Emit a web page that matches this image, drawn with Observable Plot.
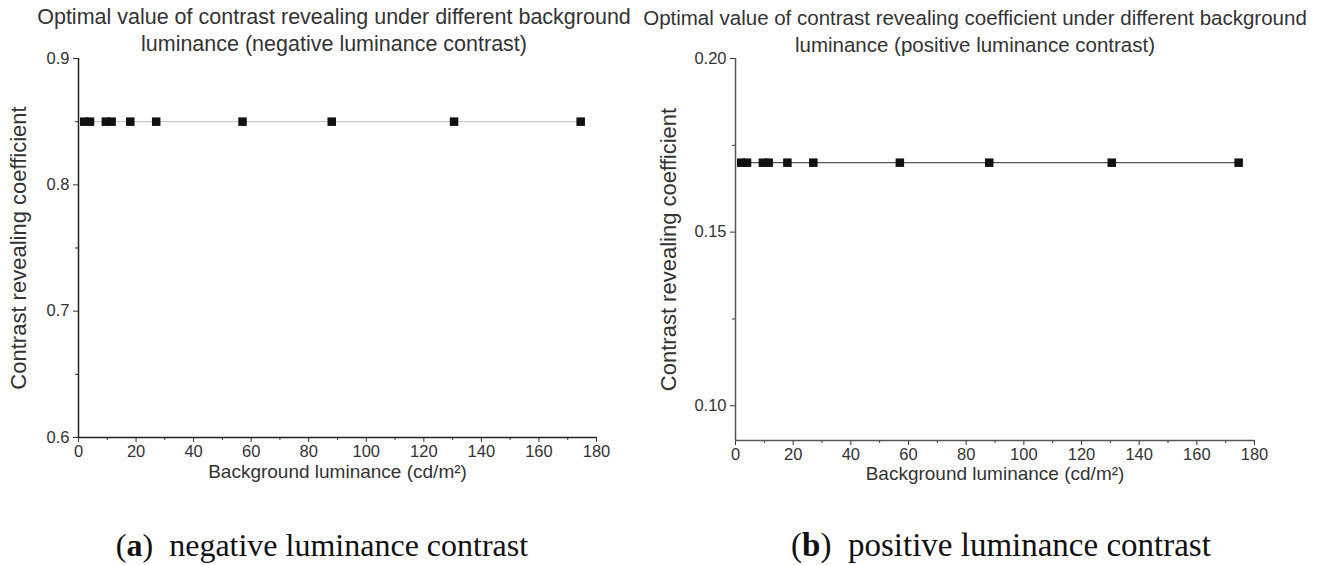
<!DOCTYPE html>
<html>
<head>
<meta charset="utf-8">
<script src="https://cdn.jsdelivr.net/npm/d3@7"></script>
<script src="https://cdn.jsdelivr.net/npm/@observablehq/plot@0.6"></script>
<style>
  html, body { margin: 0; padding: 0; background: #fff; }
  #wrap { position: relative; width: 1320px; height: 565px; overflow: hidden; }
  .panel { position: absolute; top: 0; }
  .title { position: absolute; font-family: "Liberation Sans", Arial, sans-serif; color: #333; text-align: center; line-height: 27px; white-space: nowrap; transform: translateX(-50%); }
  .cap { position: absolute; font-family: "Liberation Serif", "Times New Roman", serif; font-size: 32px; color: #111; white-space: nowrap; transform: translateX(-50%); line-height: 38px; }
</style>
</head>
<body>
<div id="wrap">
  <div class="panel" id="pa" style="left:0"></div>
  <div class="panel" id="pb" style="left:660px"></div>
  <div class="title" style="left:334px; top:4px; font-size:21.5px">Optimal value of contrast revealing under different background<br>luminance (negative luminance contrast)</div>
  <div class="title" style="left:975px; top:4px; font-size:20.5px">Optimal value of contrast revealing coefficient under different background<br>luminance (positive luminance contrast)</div>
  <div class="cap" style="left:322px; top:526px">(<b>a</b>)&nbsp; negative luminance contrast</div>
  <div class="cap" style="left:1001px; top:526px; font-size:33px">(<b>b</b>)&nbsp; positive luminance contrast</div>
</div>
<script>
// Data
const luminance = [2, 4, 9.5, 11.5, 18, 27, 57, 88, 130.5, 174.5];
const negativeCoef = [0.85, 0.85, 0.85, 0.85, 0.85, 0.85, 0.85, 0.85, 0.85, 0.85];
const positiveCoef = [0.17, 0.17, 0.17, 0.17, 0.17, 0.17, 0.17, 0.17, 0.17, 0.17];

const xTicks = [0, 20, 40, 60, 80, 100, 120, 140, 160, 180];
const xMinor = [10, 30, 50, 70, 90, 110, 130, 150, 170];
const yTicksA = [0.6, 0.7, 0.8, 0.9];
const yMinorA = [0.65, 0.75, 0.85];
const yTicksB = [0.10, 0.15, 0.20];
const yMinorB = [0.125, 0.175];

const xLabel = "Background luminance (cd/m²)";
const yLabel = "Contrast revealing coefficient";

function panel(opts) {
  const data = luminance.map((x, i) => ({x, y: opts.values[i]}));
  const svg = Plot.plot({
    width: 660, height: 500,
    marginLeft: opts.ml, marginRight: opts.mr, marginTop: 58, marginBottom: opts.mb,
    x: {domain: [0, 180]},
    y: {domain: opts.yDomain},
    style: {fontFamily: "'Liberation Sans', Arial, sans-serif", fontSize: "16.5px", color: "#333", background: "#fff", overflow: "visible"},
    marks: [
      Plot.axisY(opts.yTicks, {tickSize: 5, tickPadding: 4, tickFormat: d3.format(opts.fmt), label: null, fontSize: 16.5}),
      Plot.axisY(opts.yMinor, {tickSize: 3, tickFormat: () => "", label: null}),
      Plot.axisX(xTicks, {tickSize: 5, tickPadding: 3, label: null, fontSize: 16.5}),
      Plot.axisX(xMinor, {tickSize: 3, tickFormat: () => "", label: null}),
      Plot.ruleX([0], {stroke: opts.axisColor, strokeWidth: 1.5}),
      Plot.ruleY([opts.yDomain[0]], {stroke: opts.axisColor, strokeWidth: 1.5}),
      Plot.line(data, {x: "x", y: "y", stroke: opts.lineColor, strokeWidth: 1.3}),
      Plot.dot(data, {x: "x", y: "y", symbol: "square", r: 4.8, fill: "#111", stroke: "none"}),
      // axis titles placed in frame-relative coordinates
      Plot.text([xLabel], {frameAnchor: "bottom", dy: opts.xdy, fontSize: 19, fill: "#333", lineAnchor: "middle", textAnchor: "middle"}),
      Plot.text([yLabel], {frameAnchor: "left", dx: -opts.ydx, rotate: -90, fontSize: 22, fill: "#333", lineAnchor: "middle", textAnchor: "middle"})
    ]
  });
  return svg;
}

document.getElementById("pa").append(panel({
  values: negativeCoef, yDomain: [0.6, 0.9], yTicks: yTicksA, yMinor: yMinorA, fmt: ".1f",
  ml: 78, mr: 64, mb: 63, xdy: 34, ydx: 60, axisColor: "#222", lineColor: "#c8c8c8"
}));
document.getElementById("pb").append(panel({
  values: positiveCoef, yDomain: [0.09, 0.20], yTicks: yTicksB, yMinor: yMinorB, fmt: ".2f",
  ml: 75, mr: 66, mb: 60, xdy: 33, ydx: 67, axisColor: "#555", lineColor: "#555"
}));
</script>
</body>
</html>
